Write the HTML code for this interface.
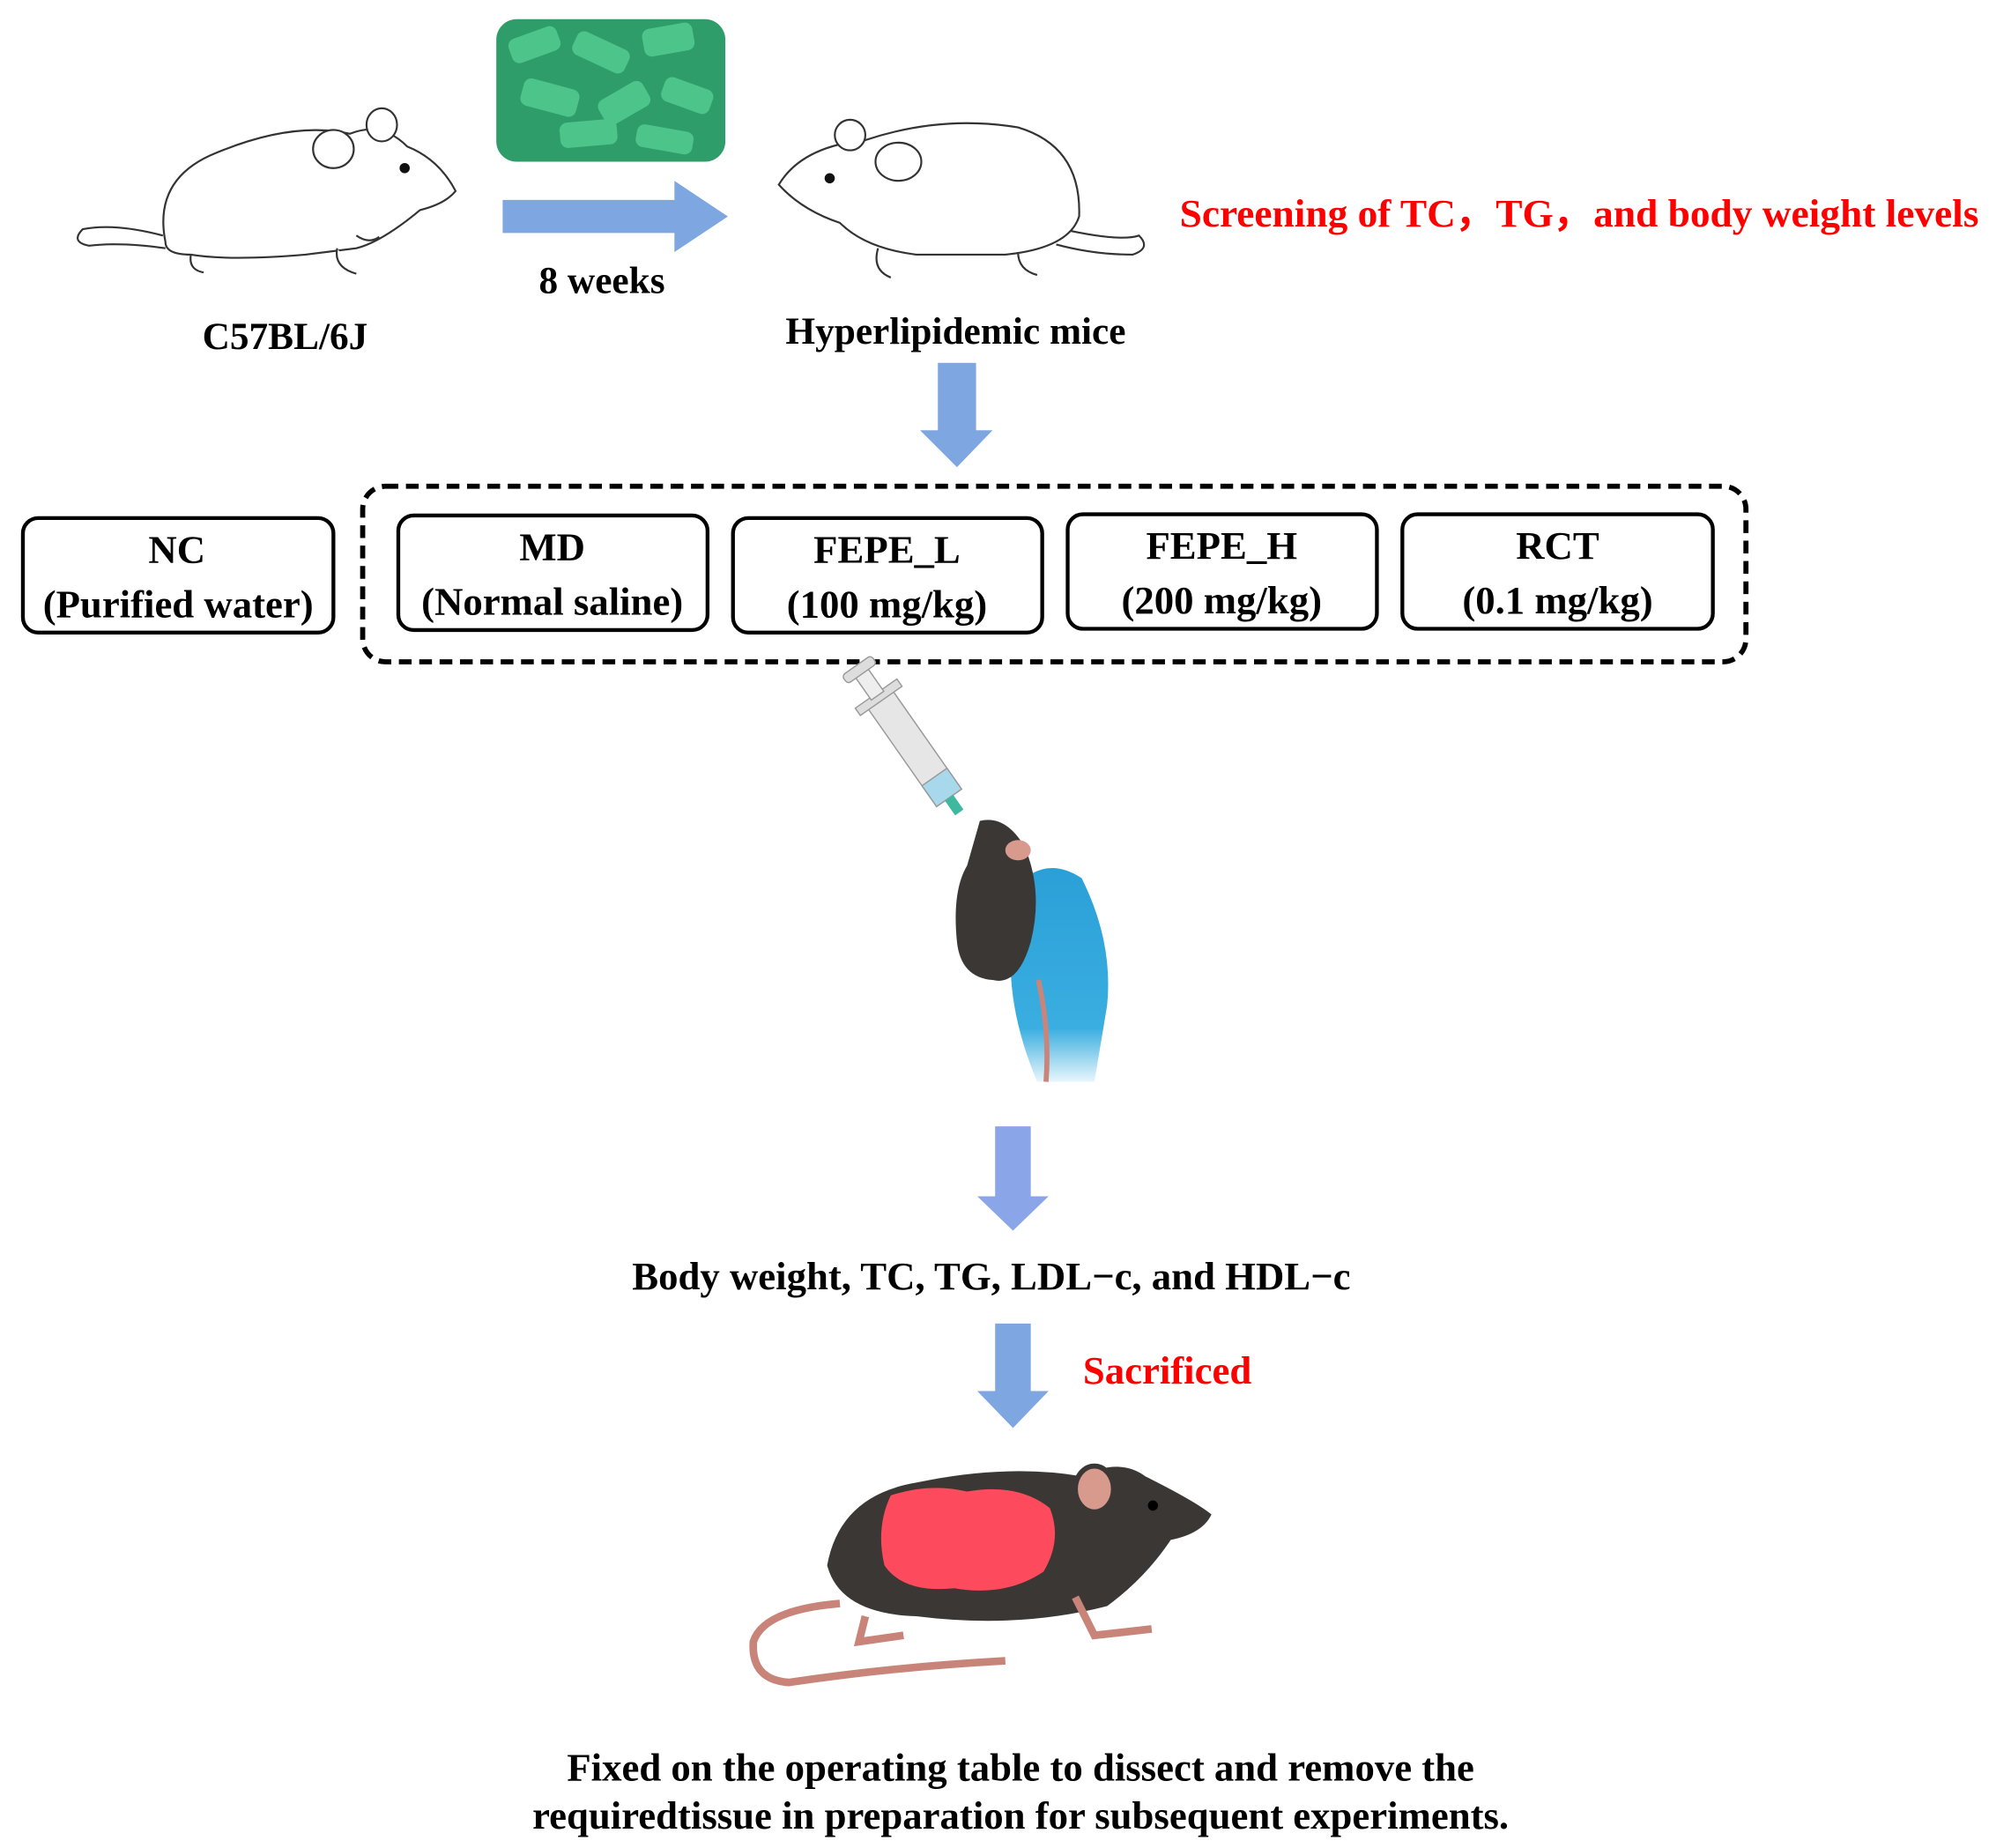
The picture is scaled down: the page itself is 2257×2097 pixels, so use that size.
<!DOCTYPE html>
<html><head><meta charset="utf-8"><style>
html,body{margin:0;padding:0;background:#fff}
svg{display:block}
text{font-family:"Liberation Serif",serif;font-weight:bold}
</style></head><body>
<svg width="2257" height="2097" viewBox="0 0 1563 1452" xmlns="http://www.w3.org/2000/svg">
<defs>
<linearGradient id="glove" x1="0" y1="0" x2="0" y2="1"><stop offset="0" stop-color="#2aa0d8"/><stop offset="0.75" stop-color="#3aaee0"/><stop offset="1" stop-color="#e8f6fc"/></linearGradient>
</defs>
<!-- left white mouse -->
<g fill="#fff" stroke="#333" stroke-width="1.5">
<path d="M128,185 Q90,175 65,180 Q55,190 70,193 Q95,190 130,195" fill="none"/>
<path d="M130,190 Q120,140 170,120 Q230,95 275,105 Q300,95 320,115 Q345,125 358,150 Q350,160 330,165 Q300,190 280,195 L240,200 Q180,205 150,200 Q130,200 130,190 Z"/>
<ellipse cx="300" cy="98" rx="12" ry="13"/>
<ellipse cx="262" cy="117" rx="16" ry="15"/>
<path d="M150,200 Q148,212 160,214 M265,195 Q262,210 280,215 M280,185 Q290,192 298,186"/>
</g>
<circle cx="318" cy="132" r="4" fill="#111"/>
<!-- pellets -->
<rect x="390" y="15" width="180" height="112" rx="16" fill="#2f9d6a"/>
<g fill="#4cc48a">
<rect x="400" y="25" width="40" height="20" rx="6" transform="rotate(-20 420 35)"/>
<rect x="450" y="30" width="45" height="20" rx="6" transform="rotate(25 470 40)"/>
<rect x="505" y="20" width="40" height="22" rx="6" transform="rotate(-10 525 30)"/>
<rect x="410" y="65" width="45" height="22" rx="6" transform="rotate(15 430 75)"/>
<rect x="470" y="70" width="40" height="22" rx="6" transform="rotate(-30 490 80)"/>
<rect x="520" y="65" width="40" height="20" rx="6" transform="rotate(20 540 75)"/>
<rect x="440" y="95" width="45" height="20" rx="6" transform="rotate(-5 460 105)"/>
<rect x="500" y="100" width="45" height="18" rx="6" transform="rotate(10 520 108)"/>
</g>
<!-- arrow right -->
<polygon points="395,157 530,157 530,142 572,170 530,198 530,183 395,183" fill="#7ea6e0"/>
<text x="473" y="230" font-size="30" text-anchor="middle">8 weeks</text>
<text x="224" y="274" font-size="30" text-anchor="middle">C57BL/6J</text>
<!-- right white mouse -->
<g fill="#fff" stroke="#333" stroke-width="1.5">
<path d="M835,180 Q880,190 895,185 Q905,195 890,200 Q860,200 830,192" fill="none"/>
<path d="M612,145 Q630,115 680,110 Q740,90 800,100 Q850,115 848,170 Q840,195 790,200 L720,200 Q680,195 660,175 Q630,165 612,145 Z"/>
<ellipse cx="668" cy="106" rx="12" ry="12"/>
<ellipse cx="706" cy="127" rx="18" ry="15"/>
<path d="M690,195 Q685,212 700,218 M800,198 Q800,212 815,216"/>
</g>
<circle cx="652" cy="140" r="4" fill="#111"/>
<text x="751" y="270" font-size="30" text-anchor="middle">Hyperlipidemic mice</text>
<text x="927" y="178" font-size="31" fill="#f00" textLength="628" lengthAdjust="spacingAndGlyphs">Screening of TC，TG，and body weight levels</text>
<!-- down arrow 1 -->
<polygon points="737,285 767,285 767,338 780,338 752,367 723,338 737,338" fill="#7ea6e0"/>
<!-- boxes -->
<rect x="285" y="382" width="1087" height="138" rx="18" fill="none" stroke="#000" stroke-width="4" stroke-dasharray="10,6"/>
<g fill="none" stroke="#000" stroke-width="3">
<rect x="18" y="407" width="244" height="90" rx="12"/>
<rect x="313" y="405" width="243" height="90" rx="12"/>
<rect x="576" y="407" width="243" height="90" rx="12"/>
<rect x="839" y="404" width="243" height="90" rx="12"/>
<rect x="1102" y="404" width="244" height="90" rx="12"/>
</g>
<g font-size="31" text-anchor="middle">
<text x="139" y="442">NC</text><text x="140" y="485">(Purified water)</text>
<text x="434" y="440">MD</text><text x="434" y="483">(Normal saline)</text>
<text x="697" y="442">FEPE_L</text><text x="697" y="485">(100 mg/kg)</text>
<text x="960" y="439">FEPE_H</text><text x="960" y="482">(200 mg/kg)</text>
<text x="1224" y="439">RCT</text><text x="1224" y="482">(0.1 mg/kg)</text>
</g>
<!-- syringe, mouse, glove -->
<g transform="rotate(-35 720 590)">
<rect x="708" y="540" width="24" height="95" fill="#e6e6e6" stroke="#999"/>
<rect x="708" y="615" width="24" height="20" fill="#a8d8ec" stroke="#999"/>
<rect x="700" y="535" width="40" height="7" fill="#ddd" stroke="#999"/>
<rect x="714" y="515" width="12" height="22" fill="#eee" stroke="#999"/>
<rect x="706" y="508" width="28" height="8" rx="3" fill="#ddd" stroke="#999"/>
<rect x="716" y="635" width="8" height="14" fill="#3fb8a0"/>
</g>
<path d="M795,700 Q820,670 850,690 Q875,740 870,790 L860,850 L815,850 Q790,790 795,740 Z" fill="url(#glove)"/>
<path d="M770,645 Q790,640 805,665 Q820,700 810,740 Q800,775 780,770 Q755,768 752,740 Q748,700 760,680 Z" fill="#3b3735"/>
<ellipse cx="800" cy="668" rx="10" ry="8" fill="#d99a8e"/>
<path d="M816,770 Q825,810 822,850" stroke="#c9857a" stroke-width="4" fill="none"/>
<!-- down arrow 2 -->
<polygon points="782,885 810,885 810,940 824,940 796,967 768,940 782,940" fill="#8aa6e8"/>
<text x="779" y="1013" font-size="31" text-anchor="middle">Body weight, TC, TG, LDL−c, and HDL−c</text>
<polygon points="782,1040 810,1040 810,1093 824,1093 796,1122 768,1093 782,1093" fill="#7ea6e0"/>
<text x="851" y="1087" font-size="31" fill="#f00">Sacrificed</text>
<!-- black mouse -->
<path d="M660,1260 Q600,1265 592,1290 Q590,1320 620,1322 Q700,1310 790,1305" stroke="#c98479" stroke-width="6" fill="none"/>
<path d="M650,1230 Q660,1175 720,1165 Q790,1150 850,1160 Q880,1145 900,1160 Q940,1180 952,1190 Q945,1205 920,1210 Q900,1240 870,1262 Q800,1280 720,1270 Q660,1268 650,1230 Z" fill="#3b3735"/>
<ellipse cx="860" cy="1170" rx="15" ry="18" fill="#d99a8e" stroke="#3b3735" stroke-width="4"/>
<circle cx="906" cy="1183" r="4" fill="#000"/>
<path d="M700,1175 Q730,1165 760,1172 Q800,1165 825,1185 Q835,1210 820,1235 Q790,1255 750,1248 Q710,1252 695,1230 Q688,1200 700,1175 Z" fill="#fd4a5c"/>
<path d="M680,1270 L675,1290 L710,1285 M845,1255 L860,1285 L905,1280" stroke="#c98479" stroke-width="6" fill="none"/>
<g font-size="31" text-anchor="middle">
<text x="802" y="1399">Fixed on the operating table to dissect and remove the</text>
<text x="802" y="1437">requiredtissue in preparation for subsequent experiments.</text>
</g>
</svg>
</body></html>
